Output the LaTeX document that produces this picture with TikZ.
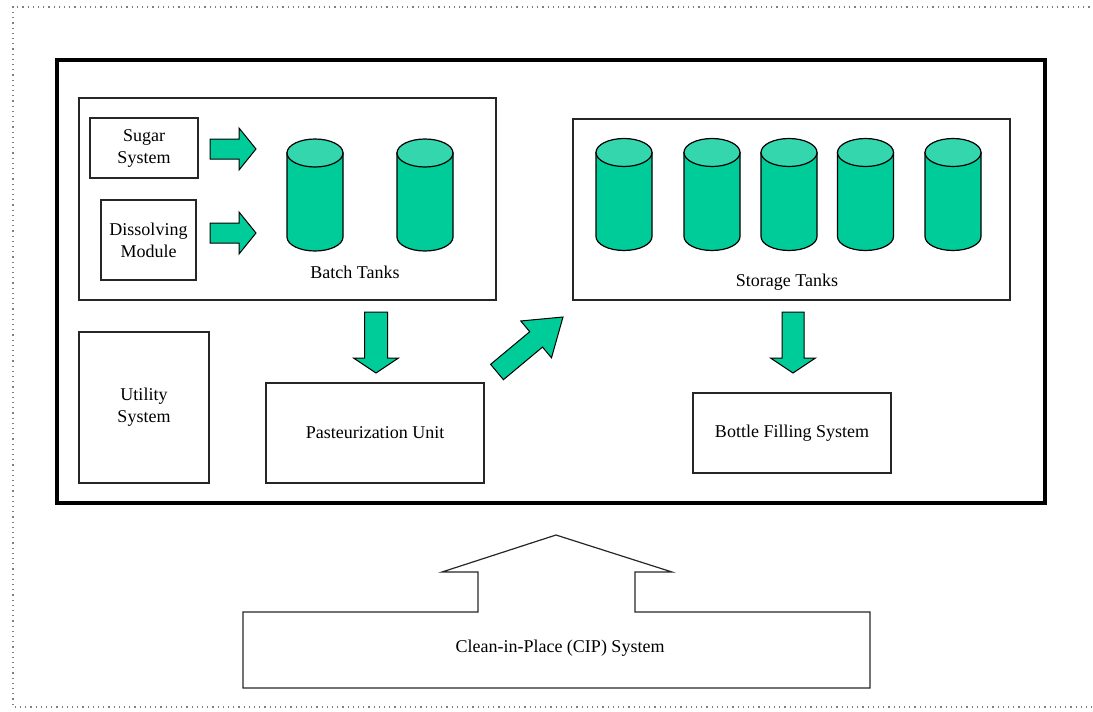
\documentclass[tikz,border=0pt]{standalone}
\usepackage{fontspec}
\setmainfont{Liberation Serif}
\usetikzlibrary{positioning, calc}
\definecolor{tankgreen}{HTML}{00CC99}
\definecolor{tanktop}{HTML}{33D6AD}

\tikzset{
  unit/.style={draw=black!85, line width=0.6pt, inner sep=0pt, outer sep=0pt, align=center, font=\fontsize{9}{11}\selectfont},
  label/.style={inner sep=0pt, font=\fontsize{9}{11}\selectfont},
  tankbody/.style={draw=black, fill=tankgreen, line width=0.6pt},
  tankend/.style={draw=black, fill=tanktop, line width=0.6pt},
  flow/.style={draw=black, fill=tankgreen, line width=0.5pt, line join=miter},
}

% block arrow: tail, tip, half shaft, half head, head length
\newcommand{\blockarrow}[5]{%
  \coordinate (ahead) at ($(#2)!#5!(#1)$);
  \filldraw[flow] ($(#1)!#3!90:(#2)$) -- ($(ahead)!#3!90:(#2)$) -- ($(ahead)!#4!90:(#2)$) -- (#2)
    -- ($(ahead)!#4!-90:(#2)$) -- ($(ahead)!#3!-90:(#2)$) -- ($(#1)!#3!-90:(#2)$) -- cycle;}

% tank: name, centre
\newcommand{\tank}[2]{%
  \coordinate (#1) at (#2);
  \filldraw[tankbody] ($(#1)+(-28,-42)$) -- ($(#1)+(-28,42)$)
    arc[start angle=180, end angle=360, x radius=14pt, y radius=7pt] -- ($(#1)+(28,-42)$) -- cycle;
  \filldraw[tankend] ($(#1)+(0,-42)$) ellipse[x radius=14pt, y radius=7pt];}

\begin{document}
\begin{tikzpicture}[x=0.5pt, y=-0.5pt]
  \useasboundingbox (0,0) rectangle (1093,712);
  \draw[gray, dotted, line width=0.6pt] (1100,7) -- (13,7) -- (13,707) -- (1100,707);

  % plant
  \node[draw, line width=2pt, minimum width=494pt, minimum height=221.5pt, inner sep=0pt] (plant) at (551,281.5) {};

  % batch section
  \node[unit, minimum width=208.5pt, minimum height=101pt] (batch) at (287.5,199) {};
  \node[unit, minimum width=54pt, minimum height=30pt] (sugar) at (144,148) {Sugar\\System};
  \node[unit, minimum width=47.5pt, minimum height=40pt] (dissolve) at (148.5,240) {Dissolving\\Module};
  \tank{bt1}{315,195}
  \tank{bt2}{425,195}
  \node[label] (batchlbl) at (355,272) {Batch Tanks};

  % storage section
  \node[unit, minimum width=218.5pt, minimum height=90.5pt] (storage) at (791.5,209.5) {};
  \foreach \x [count=\i] in {624,712,789,865.5,953}
    {\tank{st\i}{\x,194.5}}
  \node[label] (storlbl) at (787,282) {Storage Tanks};

  % lower units
  \node[unit, minimum width=65pt, minimum height=75.5pt] (utility) at (144,407.5) {Utility\\System};
  \node[unit, minimum width=109pt, minimum height=50pt] (past) at (375,433) {Pasteurization Unit};
  \node[unit, minimum width=99pt, minimum height=40pt] (bottle) at (792,433) {Bottle Filling System};

  % flows
  \coordinate (a1t) at ($(sugar.east)+(12,1)$);
  \coordinate (a1h) at ($(a1t)+(46,0)$);
  \coordinate (a2t) at ($(dissolve.east)+(14,-7)$);
  \coordinate (a2h) at ($(a2t)+(46,0)$);
  \coordinate (a3t) at ($(past.north)+(1,-71)$);
  \coordinate (a3h) at ($(past.north)+(1,-10)$);
  \coordinate (a4t) at ($(past.north east)+(13,-11)$);
  \coordinate (a4h) at ($(storage.south west)+(-10,17)$);
  \coordinate (a5t) at ($(bottle.north)+(1,-81)$);
  \coordinate (a5h) at ($(bottle.north)+(1,-20)$);
  \blockarrow{a1t}{a1h}{5pt}{10.5pt}{8.5pt}
  \blockarrow{a2t}{a2h}{5pt}{10.5pt}{8.5pt}
  \blockarrow{a3t}{a3h}{5.75pt}{11.25pt}{7.5pt}
  \blockarrow{a4t}{a4h}{5pt}{12pt}{17.5pt}
  \blockarrow{a5t}{a5h}{5.5pt}{11.25pt}{7.5pt}

  % CIP
  \draw[draw=black!85, line width=0.6pt] (243,612) -- (478,612) -- (478,572) -- (442,572) -- (556,535)
    -- (672,572) -- (635,572) -- (635,612) -- (870,612) -- (870,688) -- (243,688) -- cycle;
  \node[label] (cip) at (560,648) {Clean-in-Place (CIP) System};
\end{tikzpicture}
\end{document}
